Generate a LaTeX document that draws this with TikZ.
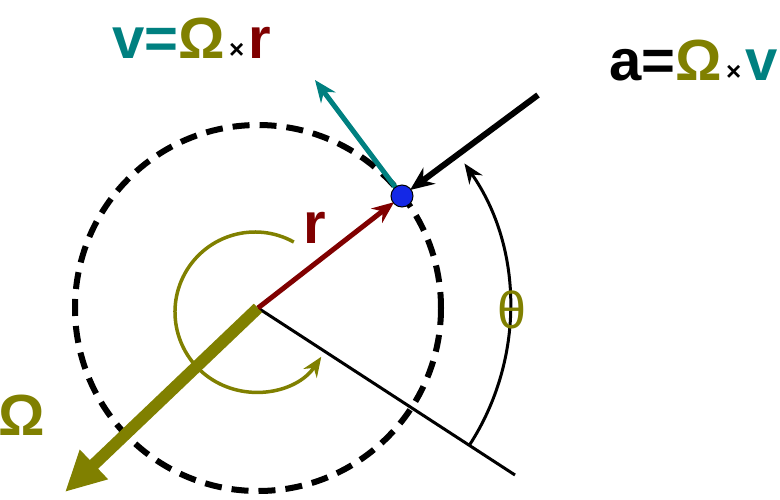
\documentclass[tikz,border=0pt]{standalone}
\usepackage{fontspec}
\setmainfont{Liberation Sans}
\usetikzlibrary{arrows.meta,calc}
\definecolor{tl}{RGB}{0,128,128}
\definecolor{ol}{RGB}{128,128,0}
\definecolor{dr}{RGB}{128,0,0}
\definecolor{bl}{RGB}{20,40,230}
\tikzset{lbl/.style={font=\fontsize{58}{58}\selectfont\bfseries, inner sep=0pt},
 tip/.style={-{Stealth[length=20pt,width=16pt]}}}
\begin{document}
\begin{tikzpicture}[x=1pt,y=-1pt]
\useasboundingbox (0,0) rectangle (780,499);
\coordinate (c) at (258,308);
\coordinate (p) at (402,196);
\coordinate (e) at (515,475);
\coordinate (vt) at (315,80);
\coordinate (as) at (538,95);
\coordinate (om) at (65,492);
\coordinate (oc) at (255,312);
\draw[line width=6pt, dash pattern=on 17pt off 10pt] (c) circle (183);
\draw[line width=3pt] (c) -- (e);
\draw[line width=3pt, tip] ($(c)+(33:252)$) arc[start angle=33, end angle=-35, radius=252];
\draw[ol, line width=3.5pt, tip] ($(oc)+(-61:80)$) arc[start angle=-61, end angle=-326, radius=80];
\draw[ol, line width=12pt, -{Triangle[length=40pt,width=38pt]}] (c) -- (om);
\draw[dr, line width=5pt, -{Stealth[length=22pt,width=18pt]}] (c) -- ($(p)!10pt!(c)$);
\draw[tl, line width=5pt, -{Stealth[length=22pt,width=18pt]}] (p) -- (vt);
\draw[line width=6pt, -{Stealth[length=24pt,width=20pt]}] (as) -- ($(p)!10pt!(as)$);
\node[circle, fill=bl, draw=black, line width=1pt, minimum size=22pt, inner sep=0pt] (dot) at (p) {};
\node[lbl, text=dr] (rl) at (315,228) {r};
\node[lbl, text=ol] (oml) at (22,415) {Ω};
\node[font=\fontsize{52}{52}\selectfont, text=ol] (th) at (512,310) {θ};
\node[lbl, anchor=base west] (vl) at (112,58) {\textcolor{tl}{v=}\textcolor{ol}{Ω}\textcolor{black}{\fontsize{26}{26}\selectfont\,×\,}\textcolor{dr}{r}};
\node[lbl, anchor=base east] (al) at (778,80) {a=\textcolor{ol}{Ω}{\fontsize{26}{26}\selectfont\,×\,}\textcolor{tl}{v}};
\end{tikzpicture}
\end{document}
